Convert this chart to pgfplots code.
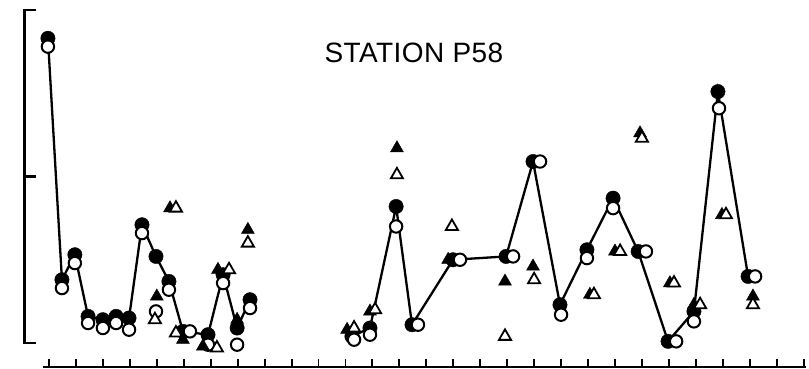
\documentclass[border=0pt]{standalone}
\usepackage{fontspec}
\setmainfont{Liberation Sans}
\usepackage{pgfplots}
\usepackage{pgfplotstable}
\pgfplotsset{compat=1.18}
\pgfplotstableread{
x y
-0.04 1.83
0.48 0.38
0.96 0.53
1.45 0.16
2.00 0.14
2.49 0.16
2.97 0.15
3.45 0.71
3.97 0.52
4.45 0.37
4.97 0.07
5.90 0.05
6.46 0.41
6.98 0.09
7.46 0.26
}\fcA
\pgfplotstableread{
x y
11.24 0.04
11.91 0.09
12.88 0.82
13.47 0.11
14.99 0.50
16.96 0.52
17.96 1.09
18.96 0.23
19.96 0.56
20.93 0.87
21.86 0.55
22.97 0.01
23.93 0.19
24.82 1.51
25.94 0.40
}\fcB
\pgfplotstableread{
x y
-0.04 1.78
0.48 0.33
0.96 0.48
1.45 0.12
2.00 0.09
2.49 0.12
2.97 0.08
3.45 0.66
3.97 0.19
4.45 0.32
5.23 0.07
5.90 -0.01
6.46 0.36
6.98 -0.01
7.46 0.21
11.32 0.02
11.91 0.05
12.88 0.70
13.69 0.11
15.25 0.50
17.22 0.52
18.22 1.09
19.00 0.17
19.96 0.51
20.93 0.81
22.15 0.55
23.27 0.01
23.93 0.13
24.86 1.41
26.20 0.40
}\oc
\pgfplotstableread{
x y
4.49 0.81
4.00 0.28
4.97 0.02
5.71 -0.02
6.27 0.44
6.98 0.14
7.38 0.68
11.06 0.08
11.91 0.19
12.91 1.17
14.81 0.50
16.92 0.37
17.96 0.46
20.07 0.29
21.00 0.55
21.93 1.26
23.04 0.36
23.93 0.23
24.97 0.77
26.12 0.28
}\ft
\pgfplotstableread{
x y
4.71 0.81
3.93 0.14
4.71 0.06
6.23 -0.03
6.68 0.44
7.38 0.60
11.32 0.09
12.10 0.20
12.91 1.01
14.95 0.70
16.92 0.04
18.00 0.38
20.22 0.29
21.19 0.55
22.00 1.23
23.19 0.36
24.16 0.23
25.12 0.77
26.12 0.23
}\ot
\begin{document}
\begin{tikzpicture}
\begin{axis}[
  width=809pt, height=369pt, scale only axis,
  xmin=-1.818, xmax=28.2, ymin=-0.156, ymax=2.06,
  axis lines=none, clip=false,
]
\path (rel axis cs:0,0) rectangle (rel axis cs:1,1);
% y axis bracket
\draw[line width=2.3pt] (axis cs:-0.48,2.0) -- (axis cs:-0.909,2.0) -- (axis cs:-0.909,0) -- (axis cs:-0.48,0);
\draw[line width=2.3pt] (axis cs:-0.909,1.0) -- (axis cs:-0.48,1.0);
% x axis
\draw[line width=2.3pt] (axis cs:-0.22,-0.144) -- (axis cs:28.09,-0.144);
\pgfplotsinvokeforeach{0,...,28}{\draw[line width=1.9pt] (axis cs:#1,-0.144) -- (axis cs:#1,-0.098);}
\node[font=\fontsize{28}{32}\selectfont\addfontfeatures{LetterSpace=1.5}] at (axis cs:13.54,1.74) {STATION P58};
% lines
\addplot[black, line width=2.3pt, mark=none] table {\fcA};
\addplot[black, line width=2.3pt, mark=none] table {\fcB};
% circles
\addplot[only marks, mark=*, mark size=7.2pt, mark options={fill=black, draw=black}] table {\fcA};
\addplot[only marks, mark=*, mark size=7.2pt, mark options={fill=black, draw=black}] table {\fcB};
\addplot[only marks, mark=*, mark size=6.2pt, mark options={fill=white, draw=black, line width=2pt}] table {\oc};
% triangles
\addplot[only marks, mark=triangle*, mark size=7.5pt, mark options={fill=black, draw=black}] table {\ft};
\addplot[only marks, mark=triangle*, mark size=7pt, mark options={fill=white, draw=black, line width=1.8pt}] table {\ot};
\end{axis}
\end{tikzpicture}
\end{document}
